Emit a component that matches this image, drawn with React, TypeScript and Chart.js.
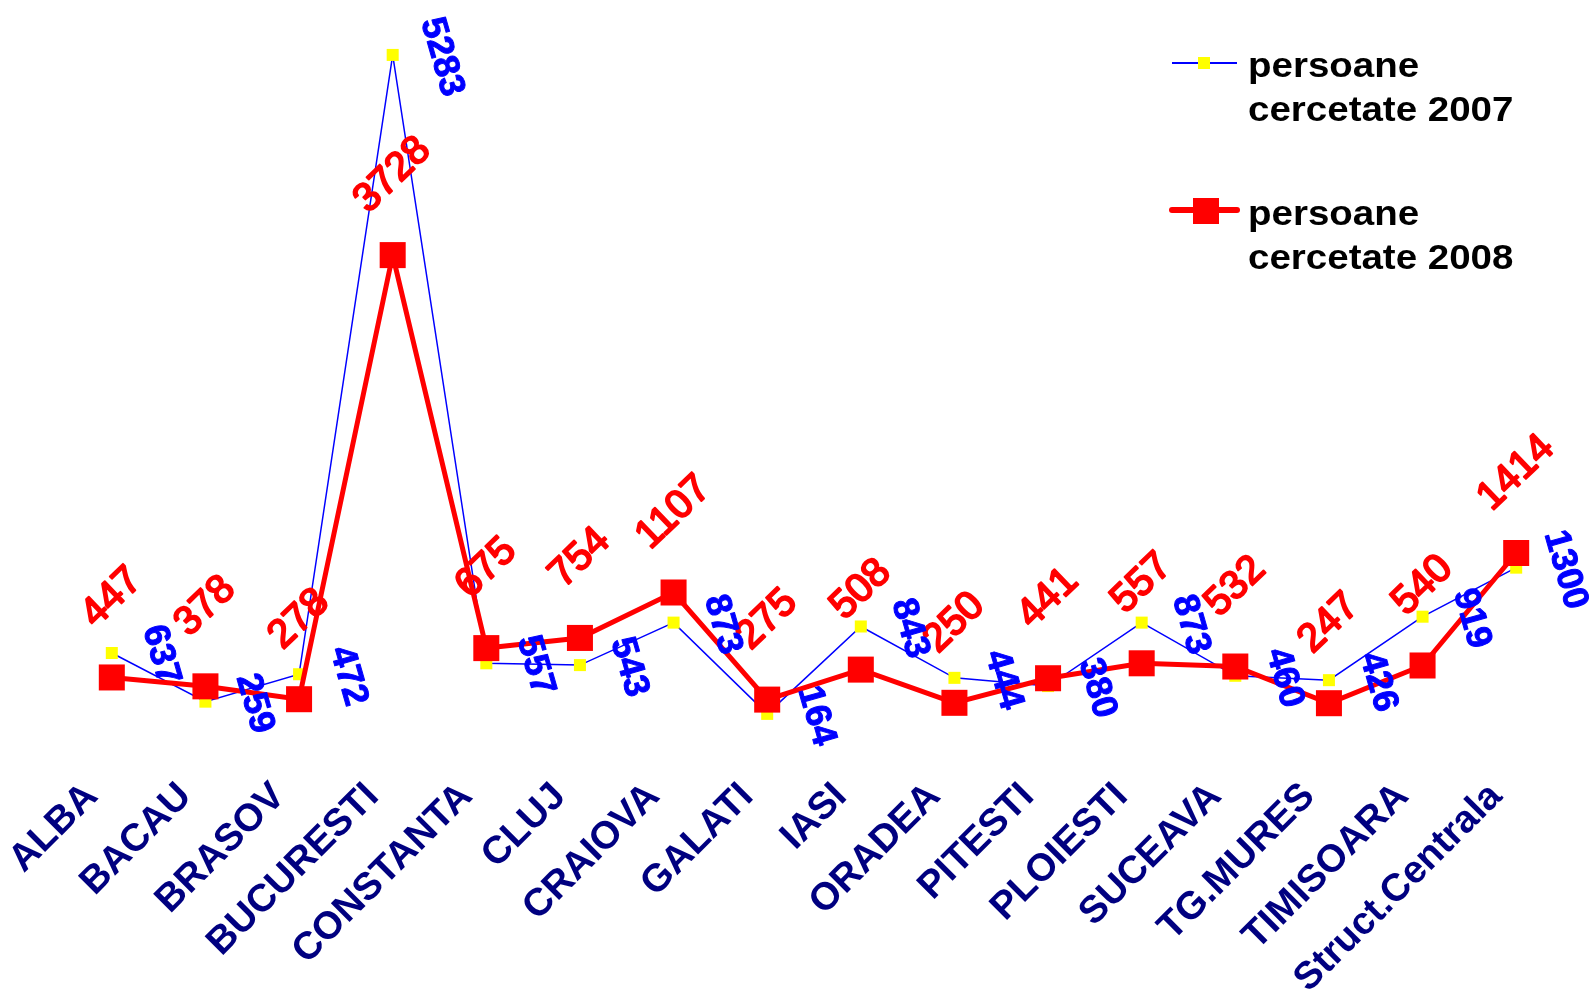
import React, { useEffect, useRef } from "react";
import { Chart, registerables } from "chart.js";

Chart.register(...registerables);

const categories = [
  "ALBA", "BACAU", "BRASOV", "BUCURESTI", "CONSTANTA", "CLUJ", "CRAIOVA", "GALATI",
  "IASI", "ORADEA", "PITESTI", "PLOIESTI", "SUCEAVA", "TG.MURES", "TIMISOARA", "Struct.Centrala",
];
const persoane2007 = [637, 259, 472, 5283, 557, 543, 873, 164, 843, 444, 380, 873, 460, 426, 919, 1300];
const persoane2008 = [447, 378, 278, 3728, 675, 754, 1107, 275, 508, 250, 441, 557, 532, 247, 540, 1414];
const legend2007 = ["persoane", "cercetate 2007"];
const legend2008 = ["persoane", "cercetate 2008"];

const FONT = "'Liberation Sans', Arial, Helvetica, sans-serif";

// dataset index 0 = 2008 (red, drawn on top), 1 = 2007 (blue)
const LABEL_CFG = [
  { dx: 0, dy: -80, angle: -44, font: `40px ${FONT}`, color: "#FF0000", stroke: 2 },
  { dx: 49, dy: 2, angle: 74, font: `bold 36px ${FONT}`, color: "#0000FF", stroke: 1 },
];

const valueLabels = {
  id: "valueLabels",
  afterDatasetsDraw(chart: any) {
    const ctx = chart.ctx;
    chart.data.datasets.forEach((ds: any, i: number) => {
      const meta = chart.getDatasetMeta(i);
      const cfg = LABEL_CFG[i];
      meta.data.forEach((pt: any, j: number) => {
        ctx.save();
        ctx.translate(pt.x + cfg.dx, pt.y + cfg.dy);
        ctx.rotate((cfg.angle * Math.PI) / 180);
        ctx.font = cfg.font;
        ctx.fillStyle = cfg.color;
        ctx.strokeStyle = cfg.color;
        ctx.lineWidth = cfg.stroke;
        ctx.lineJoin = "round";
        ctx.textAlign = "center";
        ctx.textBaseline = "middle";
        ctx.fillText(String(ds.data[j]), 0, 0);
        ctx.strokeText(String(ds.data[j]), 0, 0);
        ctx.restore();
      });
    });
  },
};

const customLegend = {
  id: "customLegend",
  afterDraw(chart: any) {
    const ctx = chart.ctx;
    const drawText = (lines: string[], x: number, y0: number, step: number) => {
      lines.forEach((t, k) => {
        ctx.save();
        ctx.translate(x, y0 + k * step);
        ctx.scale(1.1, 1);
        ctx.font = `bold 35px ${FONT}`;
        ctx.fillStyle = "#000000";
        ctx.textAlign = "left";
        ctx.textBaseline = "alphabetic";
        ctx.fillText(t, 0, 0);
        ctx.restore();
      });
    };
    // 2007 entry
    ctx.save();
    ctx.strokeStyle = "#0000FF";
    ctx.lineWidth = 2;
    ctx.beginPath();
    ctx.moveTo(1172, 63);
    ctx.lineTo(1237, 63);
    ctx.stroke();
    ctx.fillStyle = "#FFFF00";
    ctx.fillRect(1198, 57, 12, 12);
    // 2008 entry
    ctx.strokeStyle = "#FF0000";
    ctx.lineWidth = 6;
    ctx.lineCap = "round";
    ctx.beginPath();
    ctx.moveTo(1172, 210);
    ctx.lineTo(1237, 210);
    ctx.stroke();
    ctx.fillStyle = "#FF0000";
    ctx.fillRect(1193, 198, 26, 26);
    ctx.restore();
    drawText(legend2007, 1248, 77, 43.5);
    drawText(legend2008, 1248, 225, 43.5);
  },
};

export default function App() {
  const canvasRef = useRef<HTMLCanvasElement | null>(null);

  useEffect(() => {
    if (!canvasRef.current) return;
    const chart = new Chart(canvasRef.current, {
      type: "line",
      data: {
        labels: categories,
        datasets: [
          {
            label: "persoane cercetate 2008",
            data: persoane2008,
            borderColor: "#FF0000",
            backgroundColor: "#FF0000",
            borderWidth: 5,
            pointStyle: "rect",
            pointRadius: 18.4,
            pointBorderWidth: 0,
            pointBackgroundColor: "#FF0000",
            pointBorderColor: "#FF0000",
            tension: 0,
            fill: false,
            clip: false as any,
          },
          {
            label: "persoane cercetate 2007",
            data: persoane2007,
            borderColor: "#0000FF",
            backgroundColor: "#FFFF00",
            borderWidth: 1.5,
            pointStyle: "rect",
            pointRadius: 8.5,
            pointBorderWidth: 0,
            pointBackgroundColor: "#FFFF00",
            pointBorderColor: "#FFFF00",
            tension: 0,
            fill: false,
            clip: false as any,
          },
        ],
      },
      options: {
        responsive: false,
        animation: false,
        events: [],
        layout: { padding: { left: 65, right: 33, top: 27, bottom: 0 } },
        plugins: {
          legend: { display: false },
          tooltip: { enabled: false },
          title: { display: false },
        },
        scales: {
          x: {
            offset: true,
            grid: { display: false, drawTicks: false },
            border: { display: false },
            ticks: {
              autoSkip: false,
              minRotation: 45,
              maxRotation: 45,
              padding: 39,
              labelOffset: -20,
              color: "#000080",
              font: { family: FONT, size: 38.5, weight: "bold" },
            },
            afterFit: (scale: any) => {
              scale.height = 257;
              scale.paddingLeft = 0;
              scale.paddingRight = 0;
            },
          },
          y: {
            display: false,
            min: 0,
            max: 5500,
          },
        },
      },
      plugins: [valueLabels, customLegend],
    });
    return () => chart.destroy();
  }, []);

  return (
    <div style={{ position: "fixed", left: 0, top: 0, width: 1596, height: 992, background: "#ffffff" }}>
      <canvas ref={canvasRef} width={1596} height={992} style={{ display: "block" }} />
    </div>
  );
}
